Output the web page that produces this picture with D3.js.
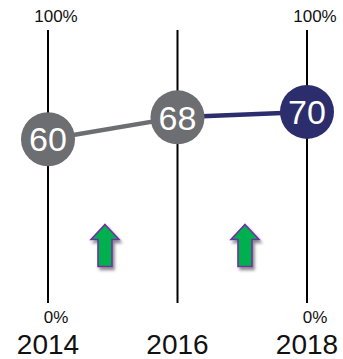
<!DOCTYPE html>
<html>
<head>
<meta charset="utf-8">
<script src="https://cdn.jsdelivr.net/npm/d3@7"></script>
<style>
  html, body { margin: 0; padding: 0; background: #fff; }
  svg { display: block; font-family: "Liberation Sans", Arial, sans-serif; }
</style>
</head>
<body>
<svg id="chart" width="343" height="359"></svg>
<script>
// Survey share by year (percent)
const years = ["2014", "2016", "2018"];
const values = [60, 68, 70];
const pointColors = ["#6d6e71", "#6d6e71", "#2b2d6d"];
// Colour of the segment leading into each later year
const segmentColors = ["#6d6e71", "#2b2d6d"];
// Direction of change between consecutive years
const changes = ["up", "up"];
const scaleTop = "100%";
const scaleBottom = "0%";

const svg = d3.select("#chart");

const x = d3.scalePoint().domain(years).range([48, 307]);
const y = d3.scaleLinear().domain([0, 100]).range([303, 30]);

// Drop shadow for the change arrows
const defs = svg.append("defs");
const f = defs.append("filter").attr("id", "shadow")
  .attr("x", "-50%").attr("y", "-50%").attr("width", "200%").attr("height", "200%");
f.append("feDropShadow").attr("dx", 2).attr("dy", 3).attr("stdDeviation", 1.6)
  .attr("flood-color", "#000").attr("flood-opacity", 0.45);

// Vertical axes, one per year
svg.selectAll("line.axis").data(years).join("line")
  .attr("class", "axis")
  .attr("x1", d => x(d)).attr("x2", d => x(d))
  .attr("y1", y(100)).attr("y2", y(0))
  .attr("stroke", "#000").attr("stroke-width", 2);

// Scale end labels on the outer axes
const ends = [years[0], years[years.length - 1]];
svg.selectAll("text.top").data(ends).join("text")
  .attr("class", "top")
  .attr("x", d => x(d) + 8).attr("y", y(100) - 8)
  .attr("text-anchor", "middle")
  .attr("font-size", 17).attr("fill", "#111")
  .text(scaleTop);
svg.selectAll("text.bottom").data(ends).join("text")
  .attr("class", "bottom")
  .attr("x", d => x(d) + 8).attr("y", y(0) + 20)
  .attr("text-anchor", "middle")
  .attr("font-size", 17).attr("fill", "#111")
  .text(scaleBottom);

// Year labels
svg.selectAll("text.year").data(years).join("text")
  .attr("class", "year")
  .attr("x", d => x(d)).attr("y", 354)
  .attr("text-anchor", "middle")
  .attr("font-size", 28).attr("fill", "#111")
  .text(d => d);

// Connecting segments
const segs = d3.pairs(years.map((yr, i) => ({ yr, v: values[i] })));
svg.selectAll("line.seg").data(segs).join("line")
  .attr("class", "seg")
  .attr("x1", d => x(d[0].yr)).attr("y1", d => y(d[0].v))
  .attr("x2", d => x(d[1].yr)).attr("y2", d => y(d[1].v))
  .attr("stroke", (d, i) => segmentColors[i])
  .attr("stroke-width", 4.5);

// Value markers
const pts = svg.selectAll("g.pt").data(years).join("g")
  .attr("class", "pt")
  .attr("transform", (d, i) => `translate(${x(d)},${y(values[i])})`);
pts.append("circle").attr("r", 27).attr("fill", (d, i) => pointColors[i]);
pts.append("text")
  .attr("text-anchor", "middle").attr("dy", "0.36em")
  .attr("font-size", 34).attr("fill", "#fff")
  .text((d, i) => values[i]);

// Change arrows between years
const arrowPath = "M0,-21 L14,-6 L7,-6 L7,21 L-7,21 L-7,-6 L-14,-6 Z";
const arrowX = [105, 245];
svg.selectAll("path.arrow").data(changes).join("path")
  .attr("class", "arrow")
  .attr("d", arrowPath)
  .attr("transform", (d, i) => `translate(${arrowX[i]},245.5)` + (d === "down" ? " rotate(180)" : ""))
  .attr("fill", "#00b050")
  .attr("stroke", "#7030a0").attr("stroke-width", 1.6)
  .attr("filter", "url(#shadow)");
</script>
</body>
</html>
